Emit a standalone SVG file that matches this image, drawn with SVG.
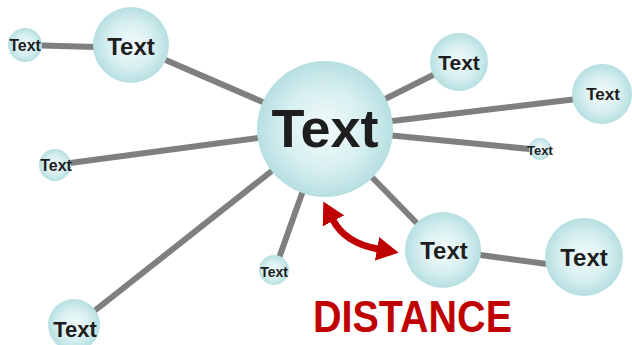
<svg xmlns="http://www.w3.org/2000/svg" width="632" height="345" viewBox="0 0 632 345">
<style>
.edge{stroke:#7f7f7f;stroke-width:6;fill:none}
.node{fill:url(#g)}
.t{font-family:"Liberation Sans",Arial,sans-serif;font-weight:bold;fill:#1e1e1e;text-anchor:middle}
.red{font-family:"Liberation Sans",Arial,sans-serif;font-weight:bold;fill:#c00000}
</style>
<defs>
<radialGradient id="g" cx="50%" cy="50%" r="50%">
<stop offset="0" stop-color="#f4fbfb"/>
<stop offset="0.6" stop-color="#d7eff0"/>
<stop offset="1" stop-color="#b6dfe1"/>
</radialGradient>
<marker id="ah" viewBox="0 0 22 24" markerWidth="22" markerHeight="24" refX="1" refY="12" orient="auto-start-reverse" markerUnits="userSpaceOnUse">
<path d="M0,0 L22,12 L0,24 z" fill="#c00000"/>
</marker>
</defs>
<g id="connectors">
<line class="edge" x1="25" y1="45" x2="131" y2="48"/>
<line class="edge" x1="131" y1="45" x2="325" y2="129"/>
<line class="edge" x1="325" y1="129" x2="459" y2="62"/>
<line class="edge" x1="325" y1="129" x2="602" y2="96"/>
<line class="edge" x1="325" y1="129" x2="540" y2="150"/>
<line class="edge" x1="325" y1="129" x2="55" y2="165"/>
<line class="edge" x1="325" y1="129" x2="74" y2="327"/>
<line class="edge" x1="325" y1="129" x2="274" y2="272"/>
<line class="edge" x1="325" y1="129" x2="443" y2="250"/>
<line class="edge" x1="443" y1="250" x2="584" y2="269"/>
<path d="M333 220 Q345 243 378 249" stroke="#c00000" stroke-width="7" fill="none" marker-start="url(#ah)" marker-end="url(#ah)"/>
</g>
<g id="n-center"><circle class="node" cx="325" cy="129" r="68"/><text class="t" x="325" y="147" font-size="54">Text</text></g>
<g id="n-tl"><circle class="node" cx="131" cy="45" r="38"/><text class="t" x="131" y="55" font-size="24">Text</text></g>
<g id="n-tl-small"><circle class="node" cx="25" cy="45" r="17"/><text class="t" x="25" y="51" font-size="16">Text</text></g>
<g id="n-tr"><circle class="node" cx="459" cy="62" r="29"/><text class="t" x="459" y="70" font-size="21">Text</text></g>
<g id="n-r"><circle class="node" cx="602" cy="94" r="30"/><text class="t" x="603" y="100" font-size="17">Text</text></g>
<g id="n-r-small"><circle class="node" cx="540" cy="149" r="11"/><text class="t" x="540" y="155" font-size="13">Text</text></g>
<g id="n-l"><circle class="node" cx="55" cy="165" r="16"/><text class="t" x="56" y="171" font-size="16">Text</text></g>
<g id="n-b-small"><circle class="node" cx="274" cy="270" r="15"/><text class="t" x="274" y="277" font-size="14">Text</text></g>
<g id="n-bl"><circle class="node" cx="74" cy="325" r="26"/><text class="t" x="75" y="337" font-size="22">Text</text></g>
<g id="n-mid"><circle class="node" cx="443" cy="250" r="38"/><text class="t" x="444" y="259" font-size="24">Text</text></g>
<g id="n-br"><circle class="node" cx="584" cy="257" r="39"/><text class="t" x="584" y="266" font-size="24">Text</text></g>
<text class="red" x="313" y="332" font-size="44" textLength="199" lengthAdjust="spacingAndGlyphs">DISTANCE</text>
</svg>
